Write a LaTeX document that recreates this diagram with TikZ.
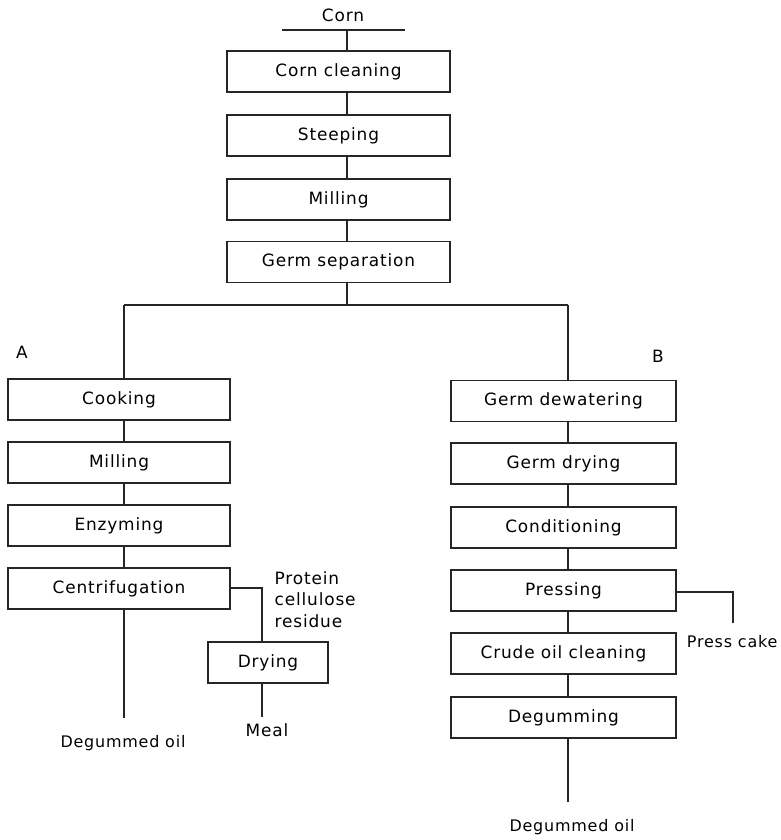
\documentclass[tikz,border=0pt]{standalone}
\usepackage{fontspec}
\setmainfont{DejaVu Sans}[LetterSpace=5]
\begin{document}
\begin{tikzpicture}[x=1bp,y=-1bp,
  line width=1.3bp, draw=black!85,
  stepbox/.style={draw, rectangle, minimum height=41bp, inner sep=0pt,
    font=\fontsize{17}{20}\selectfont},
  topbox/.style={stepbox, minimum width=223bp},
  leftbox/.style={stepbox, minimum width=222bp},
  rightbox/.style={stepbox, minimum width=225bp},
  lbl/.style={inner sep=0pt, font=\fontsize{17}{20}\selectfont},
  flow/.style={draw=black!85, line width=1.3bp}]
\useasboundingbox (0,0) rectangle (781,840);

% feed
\node[lbl] (corn) at (343,15) {Corn};
\coordinate (feedL) at (282,30);
\coordinate (feedR) at (405,30);
\coordinate (tx) at (347,30);

% common steps
\node[topbox] (clean) at (338.5,71.5) {Corn cleaning};
\node[topbox] (steep) at (338.5,135.5) {Steeping};
\node[topbox] (mill) at (338.5,199.5) {Milling};
\node[topbox] (germ) at (338.5,262) {Germ separation};

% route A
\node[lbl] (la) at (22,352) {A};
\node[leftbox] (cook) at (119,399.5) {Cooking};
\node[leftbox] (milla) at (119,462.5) {Milling};
\node[leftbox] (enz) at (119,525.5) {Enzyming};
\node[leftbox] (cent) at (119,588.5) {Centrifugation};
\node[stepbox, minimum width=120bp] (dry) at (268,662.5) {Drying};
\node[lbl, align=left, anchor=north west, font=\fontsize{17}{21.5}\selectfont] (prot) at (274,571) {Protein\\cellulose\\residue};
\node[lbl] (meal) at (267,730) {Meal};
\node[lbl, font=\fontsize{16}{19}\selectfont] (oila) at (123,743) {Degummed oil};
\coordinate (ax) at (124,305);
\coordinate (dx) at (262,588);
\coordinate (oilaend) at (124,718);
\coordinate (mealend) at (262,717);

% route B
\node[lbl] (lb) at (658,356) {B};
\node[rightbox] (dew) at (563.5,401) {Germ dewatering};
\node[rightbox] (gdry) at (563.5,463.5) {Germ drying};
\node[rightbox] (cond) at (563.5,527.5) {Conditioning};
\node[rightbox] (press) at (563.5,590.5) {Pressing};
\node[rightbox] (crude) at (563.5,653.5) {Crude oil cleaning};
\node[rightbox] (degum) at (563.5,717.5) {Degumming};
\node[lbl, anchor=east, font=\fontsize{16}{19}\selectfont] (cake) at (778,642) {Press cake};
\node[lbl, font=\fontsize{16}{19}\selectfont] (oilb) at (572,827) {Degummed oil};
\coordinate (bx) at (568,305);
\coordinate (cakex) at (733,592);
\coordinate (cakeend) at (733,623);
\coordinate (oilbend) at (568,802);

% connectors, common part
\draw[flow] (feedL) -- (feedR);
\draw[flow] (tx) -- (clean.north -| tx);
\draw[flow] (clean.south -| tx) -- (steep.north -| tx);
\draw[flow] (steep.south -| tx) -- (mill.north -| tx);
\draw[flow] (mill.south -| tx) -- (germ.north -| tx);
\draw[flow] (germ.south -| tx) -- (ax -| tx);
\draw[flow] (ax) -- (bx);

% connectors, route A
\draw[flow] (ax) -- (cook.north -| ax);
\draw[flow] (cook.south -| ax) -- (milla.north -| ax);
\draw[flow] (milla.south -| ax) -- (enz.north -| ax);
\draw[flow] (enz.south -| ax) -- (cent.north -| ax);
\draw[flow] (cent.south -| ax) -- (oilaend);
\draw[flow] (cent.east |- dx) -- (dx) -- (dry.north -| dx);
\draw[flow] (dry.south -| dx) -- (mealend);

% connectors, route B
\draw[flow] (bx) -- (dew.north -| bx);
\draw[flow] (dew.south -| bx) -- (gdry.north -| bx);
\draw[flow] (gdry.south -| bx) -- (cond.north -| bx);
\draw[flow] (cond.south -| bx) -- (press.north -| bx);
\draw[flow] (press.south -| bx) -- (crude.north -| bx);
\draw[flow] (crude.south -| bx) -- (degum.north -| bx);
\draw[flow] (degum.south -| bx) -- (oilbend);
\draw[flow] (press.east |- cakex) -- (cakex) -- (cakeend);
\end{tikzpicture}
\end{document}
